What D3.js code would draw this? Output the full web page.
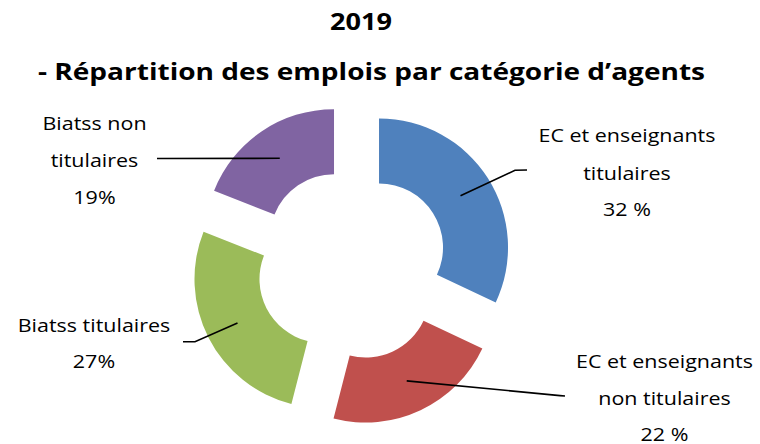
<!DOCTYPE html>
<html><head><meta charset="utf-8">
<script src="https://cdn.jsdelivr.net/npm/d3@7"></script>
<style>
html,body{margin:0;padding:0;background:#fff;}
svg{display:block;}
</style></head>
<body>
<svg id="chart" width="760" height="444"></svg>
<script>
// ---- data ----
const categories = ["EC et enseignants titulaires", "EC et enseignants non titulaires", "Biatss titulaires", "Biatss non titulaires"];
const values = [32, 22, 27, 19];
const labelLines = [
  ["EC et enseignants", "titulaires", "32 %"],
  ["EC et enseignants", "non titulaires", "22 %"],
  ["Biatss titulaires", "27%"],
  ["Biatss non", "titulaires", "19%"]
];
const titleLines = ["2019", "- Répartition des emplois par catégorie d’agents"];

// ---- styling / layout ----
const colors = ["#4F81BD", "#C0504D", "#9BBB59", "#8064A2"];
const cx = 352, cy = 264.6, outerR = 129, innerR = 64, explode = 32;
// leader elbows and label anchors (annotation layout)
const leaderPts = [
  [[515, 170.3], [527, 170]],
  [[560, 395.6], [565, 396]],
  [[195, 341.7], [183, 341.7]],
  [[157, 158.5]]
];
const labelPos = [
  {x: 627, ys: [142, 180, 216]},
  {x: 664.5, ys: [368, 405, 441]},
  {x: 94, ys: [331.7, 368]},
  {x: 94.5, ys: [130, 166.5, 204]}
];

const svg = d3.select("#chart");

// titles
svg.append("text").attr("x", 361).attr("y", 29.5)
  .attr("text-anchor", "middle")
  .attr("font-family", "'Open Sans', sans-serif").attr("font-weight", 700)
  .attr("font-size", 23).attr("textLength", 62).attr("lengthAdjust", "spacingAndGlyphs")
  .text(titleLines[0]);
svg.append("text").attr("x", 371.5).attr("y", 79.5)
  .attr("text-anchor", "middle")
  .attr("font-family", "'Open Sans', sans-serif").attr("font-weight", 700)
  .attr("font-size", 23).attr("textLength", 667).attr("lengthAdjust", "spacingAndGlyphs")
  .text(titleLines[1]);

const pie = d3.pie().sort(null).value(d => d).startAngle(0).endAngle(2 * Math.PI);
const arcs = pie(values);
const arc = d3.arc().innerRadius(innerR).outerRadius(outerR);

const offset = d => {
  const m = (d.startAngle + d.endAngle) / 2;
  return [Math.sin(m) * explode, -Math.cos(m) * explode];
};

const g = svg.append("g").attr("transform", `translate(${cx},${cy})`);
g.selectAll("path.slice").data(arcs).join("path")
  .attr("class", "slice")
  .attr("transform", d => { const o = offset(d); return `translate(${o[0]},${o[1]})`; })
  .attr("d", arc)
  .attr("fill", (d, i) => colors[i]);

// leader lines
const line = d3.line();
arcs.forEach((d, i) => {
  const c = arc.centroid(d), o = offset(d);
  const start = [cx + c[0] + o[0], cy + c[1] + o[1]];
  svg.append("path")
    .attr("d", line([start, ...leaderPts[i]]))
    .attr("fill", "none").attr("stroke", "#000").attr("stroke-width", 1.6);
});

// labels
labelLines.forEach((lines, i) => {
  const p = labelPos[i];
  lines.forEach((t, j) => {
    svg.append("text")
      .attr("transform", `translate(${p.x},${p.ys[j]}) scale(1.13,1)`)
      .attr("text-anchor", "middle")
      .attr("font-family", "'Open Sans', sans-serif")
      .attr("font-size", 19).attr("fill", "#000")
      .text(t);
  });
});
</script>
</body></html>
